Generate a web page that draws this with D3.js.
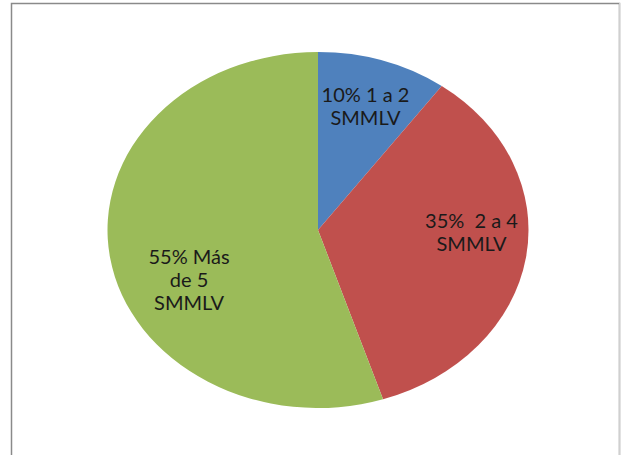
<!DOCTYPE html>
<html><head><meta charset="utf-8">
<script src="https://cdn.jsdelivr.net/npm/d3@7"></script>
<style>body{margin:0;background:#fff;}svg{display:block;}text{white-space:pre;}</style>
</head><body>
<svg id="c" width="621" height="455"></svg>
<script>
const categories = ["1 a 2 SMMLV", "2 a 4 SMMLV", "Más de 5 SMMLV"];
const values = [10, 35, 55];
const labelLines = [["10% 1 a 2", "SMMLV"], ["35%  2 a 4", "SMMLV"], ["55% Más", "de 5", "SMMLV"]];
const colors = ["#4F81BD", "#C0504D", "#9BBB59"];

const svg = d3.select("#c");
svg.append("rect").attr("x", 11.5).attr("y", 3.5).attr("width", 608).attr("height", 470)
  .attr("fill", "#fff").attr("stroke", "#8a8a8a").attr("stroke-width", 1.5);
svg.append("line").attr("x1", 619.5).attr("x2", 619.5).attr("y1", 3).attr("y2", 455)
  .attr("stroke", "#d0d0d0");

const cx = 318, cy = 230, rx = 210.5, ry = 178;
const R = 100;
const pie = d3.pie().sort(null).value(d => d)(values);
const arc = d3.arc().innerRadius(0).outerRadius(R);
const g = svg.append("g").attr("transform", `translate(${cx},${cy}) scale(${rx / R},${ry / R})`);
g.selectAll("path").data(pie).join("path").attr("d", arc).attr("fill", (d, i) => colors[i]);

const labelR = [0.73, 0.70, 0.625];
const labelShift = [[0, 0], [8, -17], [1, 33]];
const lg = svg.append("g");
pie.forEach((d, i) => {
  const a = (d.startAngle + d.endAngle) / 2;
  const x = cx + Math.sin(a) * rx * labelR[i] + labelShift[i][0];
  const y = cy - Math.cos(a) * ry * labelR[i] + labelShift[i][1];
  const lines = labelLines[i];
  const lh = 23;
  const t = lg.append("text").attr("text-anchor", "middle")
    .attr("font-family", "Lato, 'Open Sans', sans-serif").attr("font-size", 20).attr("fill", "#1a1a1a");
  lines.forEach((s, k) => {
    t.append("tspan").attr("x", x).attr("y", y + (k - (lines.length - 1) / 2) * lh + 7).text(s);
  });
});
</script>
</body></html>
